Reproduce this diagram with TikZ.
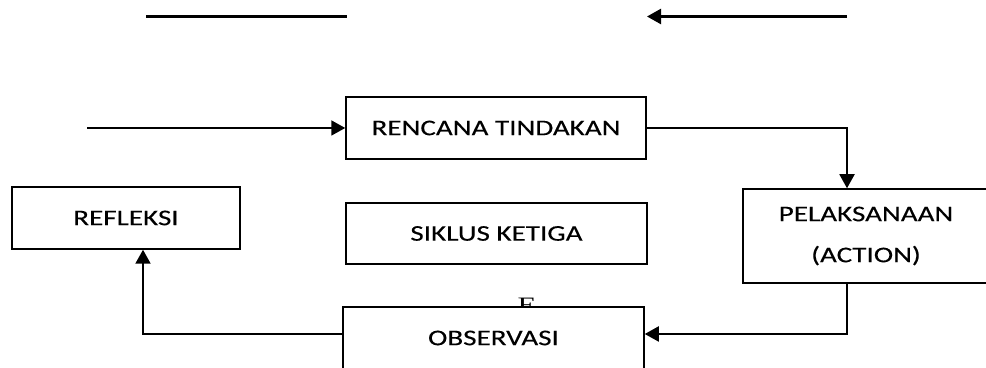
\documentclass[tikz,border=0pt]{standalone}
\usepackage{fontspec}
\setmainfont{Carlito}[FakeStretch=1.3,FakeBold=0.25]
\newfontfamily\serifE{Liberation Serif}[FakeStretch=1.4]
\usetikzlibrary{arrows.meta}

\begin{document}
\begin{tikzpicture}[x=0.5pt,y=-0.5pt]
	\tikzstyle{box}=[draw,fill=white,line width=0.75pt,inner sep=0pt,font=\fontsize{11.2}{12}\selectfont]
	\tikzstyle{conn}=[line width=0.95pt,-{Triangle[length=7pt,width=7.5pt]}]
	\useasboundingbox (0,0) rectangle (986,368);
	% loose lines on top
	\coordinate (topa) at (146,16.5);
	\coordinate (topb) at (347,16.5);
	\coordinate (topc) at (647,16.5);
	\coordinate (topd) at (847,16.5);
	\draw[line width=1.2pt] (topa) -- (topb);
	\draw[conn,line width=1.2pt] (topd) -- (topc);
	% boxes
	\node (rencana) [box,minimum width=150pt,minimum height=31pt] at (496,128) {RENCANA TINDAKAN};
	\node (siklus) [box,minimum width=150.5pt,minimum height=30.5pt] at (496.5,233.5) {SIKLUS KETIGA};
	\node (refleksi) [box,minimum width=114pt,minimum height=31pt] at (126,218) {REFLEKSI};
	\node (pelaksanaan) [box,minimum width=123pt,minimum height=47pt,align=center,font=\fontsize{11.2}{20.5}\selectfont] at (866,236) {PELAKSANAAN\\(ACTION)};
	\node (stray) [anchor=base,inner sep=0pt,font=\serifE\fontsize{11}{12}\selectfont] at (527,313) {E};
	\node (observasi) [box,minimum width=150.5pt,minimum height=31pt] at (493.5,338) {OBSERVASI};
	% cycle arrows
	\coordinate (start) at (87,128);
	\coordinate (turn) at (847,128);
	\draw[conn] (start) -- (rencana.west);
	\draw[conn] (rencana.east) -- (turn) -- (turn |- pelaksanaan.north);
	\draw[conn] (turn |- pelaksanaan.south) |- ([yshift=2pt]observasi.east);
	\draw[conn] ([yshift=2pt]observasi.west) -| ([xshift=8.5pt]refleksi.south);
\end{tikzpicture}
\end{document}
